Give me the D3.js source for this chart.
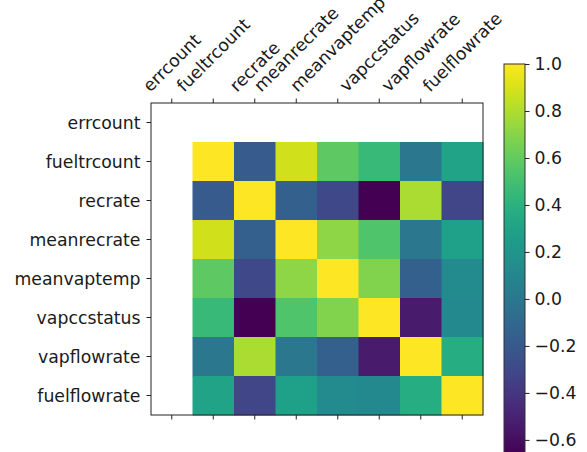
<!DOCTYPE html>
<html>
<head>
<meta charset="utf-8">
<script src="https://cdn.jsdelivr.net/npm/d3@7"></script>
<style>
  html, body { margin: 0; padding: 0; background: #fff; }
  svg { display: block; }
  text { font-family: "DejaVu Sans", sans-serif; fill: #1a1a1a; }
</style>
</head>
<body>
<svg id="chart" width="587" height="452"></svg>
<script>
// ---- data ----
const variables = ["errcount", "fueltrcount", "recrate", "meanrecrate", "meanvaptemp", "vapccstatus", "vapflowrate", "fuelflowrate"];
// correlation matrix rows (null = NaN, errcount is constant)
const rowErrcount     = [null, null, null, null, null, null, null, null];
const rowFueltrcount  = [null, 1.00, -0.19, 0.88, 0.585, 0.46, 0.00, 0.30];
const rowRecrate      = [null, -0.19, 1.00, -0.16, -0.30, -0.66, 0.79, -0.31];
const rowMeanrecrate  = [null, 0.88, -0.16, 1.00, 0.72, 0.54, 0.00, 0.28];
const rowMeanvaptemp  = [null, 0.585, -0.30, 0.72, 1.00, 0.685, -0.16, 0.13];
const rowVapccstatus  = [null, 0.46, -0.66, 0.54, 0.685, 1.00, -0.54, 0.12];
const rowVapflowrate  = [null, 0.00, 0.79, 0.00, -0.16, -0.54, 1.00, 0.37];
const rowFuelflowrate = [null, 0.30, -0.31, 0.28, 0.13, 0.12, 0.37, 1.00];
const matrix = [rowErrcount, rowFueltrcount, rowRecrate, rowMeanrecrate, rowMeanvaptemp, rowVapccstatus, rowVapflowrate, rowFuelflowrate];
const colorbarTicks = [1.0, 0.8, 0.6, 0.4, 0.2, 0.0, -0.2, -0.4, -0.6];
const vMin = -0.66, vMax = 1.0;

// ---- layout ----
const svg = d3.select("#chart");
const fs = 17.3;
const ax = { left: 151, right: 483, top: 103, bottom: 415 };
const cb = { left: 504, right: 525, top: 64, bottom: 454 };

const x = d3.scaleBand().domain(variables).range([ax.left, ax.right]).padding(0);
const y = d3.scaleBand().domain(variables).range([ax.top, ax.bottom]).padding(0);
const color = d3.scaleSequential(d3.interpolateViridis).domain([vMin, vMax]);

// cells
const cells = [];
matrix.forEach((row, i) => row.forEach((v, j) => { if (v !== null) cells.push({ r: variables[i], c: variables[j], v }); }));
svg.append("g").selectAll("rect").data(cells).join("rect")
  .attr("x", d => x(d.c)).attr("y", d => y(d.r))
  .attr("width", x.bandwidth() + 0.5).attr("height", y.bandwidth() + 0.5)
  .attr("fill", d => color(d.v));

// frame
svg.append("rect").attr("x", ax.left).attr("y", ax.top)
  .attr("width", ax.right - ax.left).attr("height", ax.bottom - ax.top)
  .attr("fill", "none").attr("stroke", "#222").attr("stroke-width", 1);

const tickLen = 4.5;
const centerX = d => x(d) + x.bandwidth() / 2;
const centerY = d => y(d) + y.bandwidth() / 2;

// x ticks (top & bottom)
const gx = svg.append("g");
variables.forEach(v => {
  gx.append("line").attr("x1", centerX(v)).attr("x2", centerX(v))
    .attr("y1", ax.top).attr("y2", ax.top - tickLen).attr("stroke", "#222");
  gx.append("line").attr("x1", centerX(v)).attr("x2", centerX(v))
    .attr("y1", ax.bottom).attr("y2", ax.bottom + tickLen).attr("stroke", "#222");
});
// x labels rotated 45deg, bbox centered on tick, bottom at y0
const y0 = 94;
variables.forEach(v => {
  const t = gx.append("text").attr("font-size", fs).attr("text-anchor", "middle")
    .attr("dominant-baseline", "central").text(v);
  const L = t.node().getComputedTextLength();
  const h = fs * 0.9;
  const half = (L + h) / (2 * Math.SQRT2);
  t.attr("transform", `translate(${centerX(v)},${y0 - half}) rotate(-45)`);
});

// y ticks & labels
const gy = svg.append("g");
variables.forEach(v => {
  gy.append("line").attr("x1", ax.left).attr("x2", ax.left - tickLen)
    .attr("y1", centerY(v)).attr("y2", centerY(v)).attr("stroke", "#222");
  gy.append("text").attr("x", ax.left - tickLen - 6).attr("y", centerY(v))
    .attr("font-size", fs).attr("text-anchor", "end").attr("dominant-baseline", "central").text(v);
});

// colorbar
const cy = d3.scaleLinear().domain([vMin, vMax]).range([cb.bottom, cb.top]);
const defs = svg.append("defs");
const grad = defs.append("linearGradient").attr("id", "cbgrad")
  .attr("x1", 0).attr("x2", 0).attr("y1", 1).attr("y2", 0);
d3.range(0, 1.0001, 0.05).forEach(t => {
  grad.append("stop").attr("offset", t).attr("stop-color", color(vMin + t * (vMax - vMin)));
});
svg.append("rect").attr("x", cb.left).attr("y", cb.top)
  .attr("width", cb.right - cb.left).attr("height", cb.bottom - cb.top)
  .attr("fill", "url(#cbgrad)").attr("stroke", "#333").attr("stroke-width", 1);
const cbAxis = d3.axisRight(cy).tickValues(colorbarTicks).tickSize(tickLen).tickPadding(5)
  .tickFormat(d => d3.format(".1f")(d).replace("-", "\u2212"));
const gcb = svg.append("g").attr("transform", `translate(${cb.right},0)`).call(cbAxis);
gcb.select(".domain").remove();
gcb.selectAll("line").attr("stroke", "#222");
gcb.selectAll("text").attr("font-size", fs).attr("font-family", "DejaVu Sans").attr("fill", "#1a1a1a");
</script>
</body>
</html>
